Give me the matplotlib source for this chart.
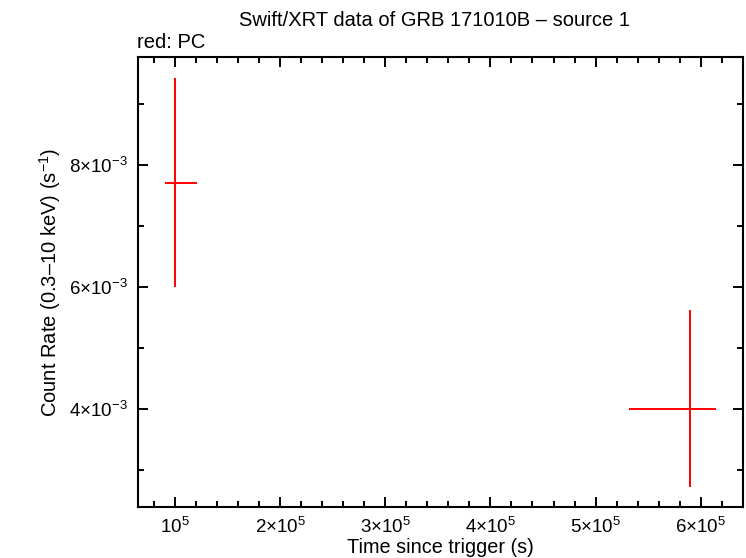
import matplotlib
matplotlib.use("Agg")
import matplotlib.pyplot as plt
from matplotlib.ticker import FixedLocator, MultipleLocator, FuncFormatter

plt.rcParams['font.family'] = ['Liberation Sans', 'DejaVu Sans']
plt.rcParams['mathtext.fontset'] = 'custom'
plt.rcParams['mathtext.rm'] = 'Liberation Sans'
plt.rcParams['mathtext.it'] = 'Liberation Sans:italic'
plt.rcParams['mathtext.bf'] = 'Liberation Sans:bold'

# Data (PC mode)
time = [1.0e5, 5.902e5]
time_err_lo = [0.94e4, 5.835e4]
time_err_hi = [2.14e4, 2.47e4]
rate = [7.71e-3, 4.01e-3]
rate_err_lo = [1.71e-3, 1.29e-3]
rate_err_hi = [1.71e-3, 1.62e-3]

x_ticks = [1e5, 2e5, 3e5, 4e5, 5e5, 6e5]
y_ticks = [4e-3, 6e-3, 8e-3]

fig = plt.figure(figsize=(7.46, 5.58), dpi=100)
ax = fig.add_axes([138/746, 1 - 507/558, (743-138)/746, (507-57)/558])

ax.errorbar(time, rate, xerr=[time_err_lo, time_err_hi], yerr=[rate_err_lo, rate_err_hi],
            fmt='none', ecolor='#ff0000', elinewidth=1.4, capsize=0)

ax.set_xlim(64830, 640200)
ax.set_ylim(2.40e-3, 9.77e-3)

def xfmt(v, pos):
    m = int(round(v / 1e5))
    if m == 1:
        return r'$10^{5}$'
    return r'$%d{\times}10^{5}$' % m

def yfmt(v, pos):
    m = int(round(v / 1e-3))
    return r'$%d{\times}10^{-3}$' % m

ax.xaxis.set_major_locator(FixedLocator(x_ticks))
ax.xaxis.set_minor_locator(MultipleLocator(2e4))
ax.yaxis.set_major_locator(FixedLocator(y_ticks))
ax.yaxis.set_minor_locator(MultipleLocator(1e-3))
ax.xaxis.set_major_formatter(FuncFormatter(xfmt))
ax.yaxis.set_major_formatter(FuncFormatter(yfmt))

ax.tick_params(which='both', direction='in', top=True, right=True, width=1.4, colors='black',
               labelsize=13.5)
ax.tick_params(which='major', length=7.5, pad=7)
ax.tick_params(which='minor', length=4.3)
for s in ax.spines.values():
    s.set_linewidth(1.5)

ax.set_xlabel('Time since trigger (s)', fontsize=14.3, labelpad=1)
ax.set_ylabel('Count Rate (0.3\u201310 keV) (s$^{-1}$)', fontsize=14.5, labelpad=5)

fig.text(434/746, 1 - 20/558, 'Swift/XRT data of GRB 171010B \u2013 source 1', ha='center', va='center', fontsize=14.5)
fig.text(137/746, 1 - 43/558, 'red: PC', ha='left', va='center', fontsize=14.5)

fig.savefig('out.png', dpi=100)
